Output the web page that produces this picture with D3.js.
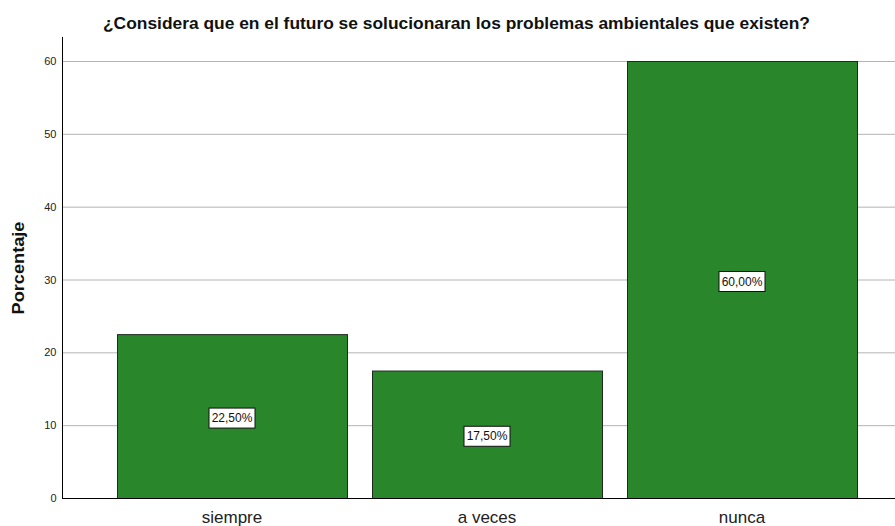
<!DOCTYPE html>
<html><head><meta charset="utf-8">
<script src="https://cdn.jsdelivr.net/npm/d3@7"></script>
<style>body{margin:0;background:#fff;} svg{display:block;font-family:"Liberation Sans",Arial,sans-serif;}</style>
</head><body>
<svg id="c" width="895" height="526"></svg>
<script>
const categories = ["siempre", "a veces", "nunca"];
const values = [22.5, 17.5, 60.0];
const valueLabels = ["22,50%", "17,50%", "60,00%"];
const yTicks = [0, 10, 20, 30, 40, 50, 60];
const titleText = "¿Considera que en el futuro se solucionaran los problemas ambientales que existen?";
const yTitle = "Porcentaje";

const svg = d3.select("#c");
const mLeft = 62, mRight = 895, mTop = 37, mBottom = 498;
const y = d3.scaleLinear().domain([0, 60]).range([mBottom, 61]);
const x = d3.scaleBand().domain(categories).range([104.5, 869.5]).paddingInner(0.098).paddingOuter(0.049);

// gridlines
svg.append("g").selectAll("line").data(yTicks.filter(d => d > 0)).join("line")
  .attr("x1", mLeft).attr("x2", mRight).attr("y1", d => y(d)+0.5).attr("y2", d => y(d)+0.5)
  .attr("stroke", "#b4b4b4").attr("stroke-width", 1);

// bars
svg.append("g").selectAll("rect").data(values).join("rect")
  .attr("x", (d, i) => x(categories[i]) + 0.5)
  .attr("y", d => y(d) + 0.5)
  .attr("width", x.bandwidth())
  .attr("height", d => mBottom - y(d))
  .attr("fill", "#2a862b").attr("stroke", "#1e2a1e").attr("stroke-width", 1);

// axes
const yAxis = svg.append("g").attr("transform", `translate(${mLeft+0.5},0)`)
  .call(d3.axisLeft(y).tickValues(yTicks).tickSize(0).tickPadding(6));
yAxis.select(".domain").attr("d", `M0,${mTop}V${mBottom+0.5}`).attr("stroke", "#000");
yAxis.selectAll("text").attr("font-size", 11).attr("fill", "#222").attr("font-family", "Liberation Sans, Arial, sans-serif");

const xAxis = svg.append("g").attr("transform", `translate(0,${mBottom+0.5})`)
  .call(d3.axisBottom(x).tickSize(0));
xAxis.select(".domain").attr("d", `M${mLeft},0H${mRight}`).attr("stroke", "#000");
xAxis.selectAll("text").attr("y", 24.5).attr("dy", null).attr("font-size", 17).attr("fill", "#222")
  .attr("font-family", "Liberation Sans, Arial, sans-serif");

// value labels
const lab = svg.append("g").selectAll("g").data(values).join("g")
  .attr("transform", (d, i) => `translate(${x(categories[i]) + x.bandwidth()/2},${y(d/2) + 2})`);
lab.append("rect").attr("x", -23).attr("y", -10).attr("width", 46).attr("height", 20)
  .attr("fill", "#fff").attr("stroke", "#111").attr("stroke-width", 1);
lab.append("text").text((d, i) => valueLabels[i]).attr("text-anchor", "middle").attr("dy", "0.35em")
  .attr("font-size", 12).attr("fill", "#111");

// titles
svg.append("text").attr("x", 456.5).attr("y", 29).attr("text-anchor", "middle")
  .attr("font-size", 17).attr("font-weight", "bold").attr("fill", "#111")
  .attr("textLength", 707).attr("lengthAdjust", "spacingAndGlyphs").text(titleText);
svg.append("text").attr("transform", "translate(24,268) rotate(-90)").attr("text-anchor", "middle")
  .attr("font-size", 17).attr("font-weight", "bold").attr("fill", "#111")
  .attr("textLength", 93).attr("lengthAdjust", "spacingAndGlyphs").text(yTitle);
</script>
</body></html>
